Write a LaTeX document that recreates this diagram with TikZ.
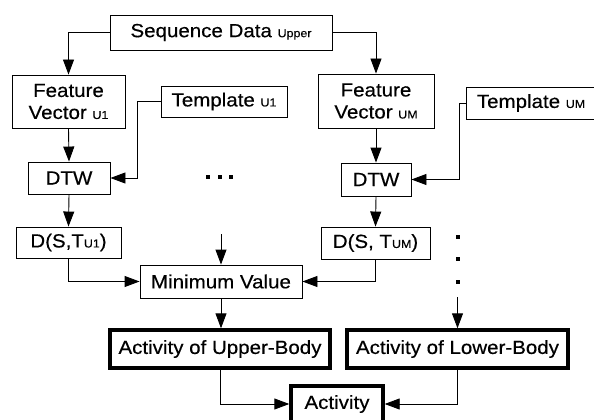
\documentclass[tikz,border=0pt]{standalone}
\usepackage{fontspec}
\setmainfont{Liberation Sans}[FakeStretch=1.08,FakeBold=0.4]
\usetikzlibrary{arrows.meta}
\newcommand{\sbs}[1]{{\fontsize{11.5}{11.5}\selectfont #1}}
\begin{document}
\begin{tikzpicture}[x=1pt,y=-1pt,
  box/.style={draw=black,line width=0.9pt,inner sep=0pt,align=center,
    font=\fontsize{19}{22}\selectfont},
  thickbox/.style={box,line width=3.4pt},
  arr/.style={line width=0.9pt,-{Triangle[length=15pt,width=11pt]}},
  ln/.style={line width=0.9pt},
  dot/.style={fill=black,inner sep=0pt,minimum size=3.6pt,rectangle}]
\useasboundingbox (0,0) rectangle (594,420);
\node[box,minimum width=222pt,minimum height=35pt] (seq) at (221,32.5) {Sequence Data \sbs{Upper}};
\node[box,minimum width=113pt,minimum height=53pt] (fv1) at (68.5,101.5) {Feature\\Vector \sbs{U1}};
\node[box,minimum width=126pt,minimum height=31pt] (t1) at (224,101.5) {Template \sbs{U1}};
\node[box,minimum width=116pt,minimum height=54pt] (fvM) at (376,101) {Feature\\Vector \sbs{UM}};
\node[box,minimum width=130pt,minimum height=32pt] (tM) at (531,103) {Template \sbs{UM}};
\node[box,minimum width=82pt,minimum height=32pt] (dtw1) at (69,178) {DTW};
\node[box,minimum width=70pt,minimum height=33pt] (dtwM) at (376,179.5) {DTW};
\node[box,minimum width=105pt,minimum height=31pt] (d1) at (68.5,242.5) {D(S,T\sbs{U1})};
\node[box,minimum width=109pt,minimum height=32pt] (dM) at (375.5,243) {D(S, T\sbs{UM})};
\node[box,minimum width=162pt,minimum height=33pt] (min) at (221,281.5) {Minimum Value};
\node[thickbox,minimum width=220pt,minimum height=38pt] (up) at (220,349) {Activity of Upper-Body};
\node[thickbox,minimum width=221pt,minimum height=38pt] (low) at (457.5,349) {Activity of Lower-Body};
\node[thickbox,minimum width=92pt,minimum height=36pt] (act) at (337,404) {Activity};
% dots
\node[dot] (h1) at (208,177) {};
\node[dot] (h2) at (220,177) {};
\node[dot] (h3) at (231,177) {};
\node[dot] (v1) at (458,237) {};
\node[dot] (v2) at (458,259) {};
\node[dot] (v3) at (458,282) {};
\coordinate (k1) at (137,101.5);
\coordinate (kM) at (459,103);
\coordinate (m0) at (221,234);
\coordinate (l0) at (457.5,297);
% connectors
\draw[arr] (seq.west) -| (fv1.north);
\draw[arr] (seq.east) -| (fvM.north);
\draw[arr] (fv1.south) -- (dtw1.north);
\draw[arr] (fvM.south) -- (dtwM.north);
\draw[ln] (t1.west) -- (k1);
\draw[arr] (k1) |- (dtw1.east);
\draw[ln] (tM.west) -- (kM);
\draw[arr] (kM) |- (dtwM.east);
\draw[arr] (dtw1.south) -- (d1.north);
\draw[arr] (dtwM.south) -- (dM.north);
\draw[arr] (d1.south) |- (min.west);
\draw[arr] (dM.south) |- (min.east);
\draw[arr] (m0) -- (min.north);
\draw[arr] (min.south) -- (up.north -| min.south);
\draw[arr] (l0) -- (low.north);
\draw[arr] (up.south) |- (act.west);
\draw[arr] (low.south) |- (act.east);
\end{tikzpicture}
\end{document}
